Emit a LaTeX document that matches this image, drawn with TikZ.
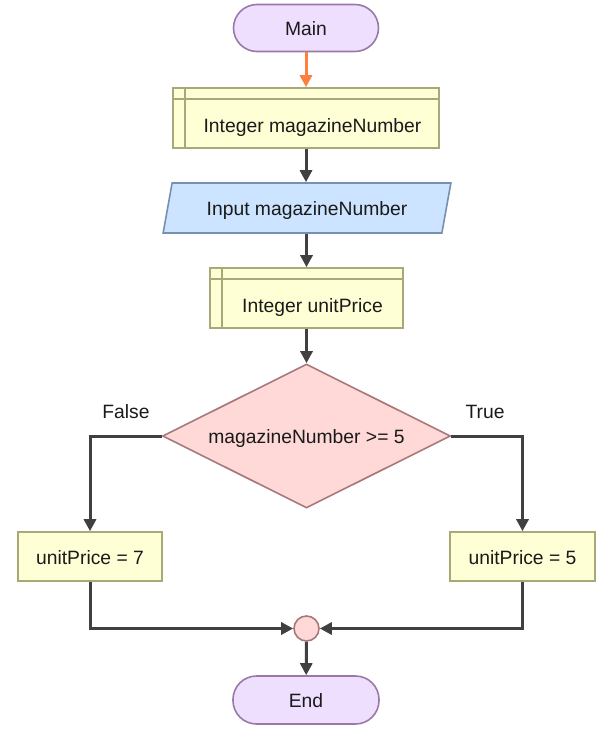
\documentclass[tikz,border=0pt]{standalone}
\usepackage{fontspec}
\setmainfont{Liberation Sans}
\usetikzlibrary{shapes.geometric,arrows.meta}
\definecolor{termfill}{HTML}{EEDFFF}
\definecolor{termdraw}{HTML}{9A79A8}
\definecolor{declfill}{HTML}{FFFFD6}
\definecolor{decldraw}{HTML}{A8A878}
\definecolor{infill}{HTML}{CCE4FF}
\definecolor{indraw}{HTML}{7790B0}
\definecolor{ifffill}{HTML}{FFD8D8}
\definecolor{ifdraw}{HTML}{A87878}
\definecolor{linecol}{HTML}{404040}
\definecolor{orangecol}{HTML}{FF7F40}
\definecolor{txt}{HTML}{1A1A1A}
\tikzset{
  x=1pt, y=-1pt,
  base/.style={font=\fontsize{19.3}{22}\selectfont, text=txt, line width=1.6pt, inner sep=0pt,
    text height=15pt, text depth=0pt},
  term/.style={base, rectangle, rounded corners=23.5pt, fill=termfill, draw=termdraw},
  decl/.style={base, rectangle, fill=declfill, draw=decldraw, text height=28pt},
  inbox/.style={base, trapezium, trapezium left angle=66, trapezium right angle=114,
    trapezium stretches=true, fill=infill, draw=indraw},
  cond/.style={base, diamond, aspect=2, fill=ifffill, draw=ifdraw},
  proc/.style={base, rectangle, fill=declfill, draw=decldraw},
  junc/.style={circle, fill=ifffill, draw=ifdraw, line width=1.6pt, minimum size=25pt, inner sep=0pt},
  lbl/.style={font=\fontsize{19.3}{22}\selectfont, text=txt, inner sep=0pt},
  conn/.style={draw=linecol, line width=3pt, -{Triangle[length=12pt,width=12pt]}},
}
\begin{document}
\begin{tikzpicture}
\useasboundingbox (0,0) rectangle (614,737);
\node[term, minimum width=145pt, minimum height=47pt] (main) at (306,28) {Main};
\node[decl, minimum width=266pt, minimum height=60pt] (d1) at (306,118) {\hspace*{13pt}Integer magazineNumber};
\draw[decldraw, line width=1.6pt] ([yshift=-12pt]d1.north west) -- ([yshift=-12pt]d1.north east);
\draw[decldraw, line width=1.6pt] ([xshift=13pt]d1.north west) -- ([xshift=13pt]d1.south west);
\node[inbox, minimum width=288pt, minimum height=50pt] (in) at (307,208) {Input magazineNumber};
\node[decl, minimum width=193pt, minimum height=60pt] (d2) at (306.5,298) {\hspace*{12pt}Integer unitPrice};
\draw[decldraw, line width=1.6pt] ([yshift=-12pt]d2.north west) -- ([yshift=-12pt]d2.north east);
\draw[decldraw, line width=1.6pt] ([xshift=13pt]d2.north west) -- ([xshift=13pt]d2.south west);
\node[cond, minimum width=288pt, minimum height=144pt] (if) at (306.5,436) {magazineNumber >= 5};
\node[proc, minimum width=144pt, minimum height=49pt] (pf) at (90,556.5) {unitPrice = 7};
\node[proc, minimum width=145pt, minimum height=49pt] (pt) at (522.5,556.5) {unitPrice = 5};
\node[lbl] (lf) at (126,412) {False};
\node[lbl] (lt) at (485,412) {True};
\node[junc] (j) at (306.5,628.5) {};
\node[term, minimum width=146pt, minimum height=48pt] (end) at (306,700) {End};
\draw[conn, draw=orangecol, -{Triangle[length=12pt,width=12pt,fill=orangecol]}] (main) -- (d1);
\draw[conn] (d1) -- (in.north -| d1.south);
\draw[conn] (in.south -| d2.north) -- (d2);
\draw[conn] (d2) -- (if);
\draw[conn] (if.west) -| (pf.north);
\draw[conn] (if.east) -| (pt.north);
\draw[conn] (pf.south) |- (j.west);
\draw[conn] (pt.south) |- (j.east);
\draw[conn] (j) -- (end);
\end{tikzpicture}
\end{document}
